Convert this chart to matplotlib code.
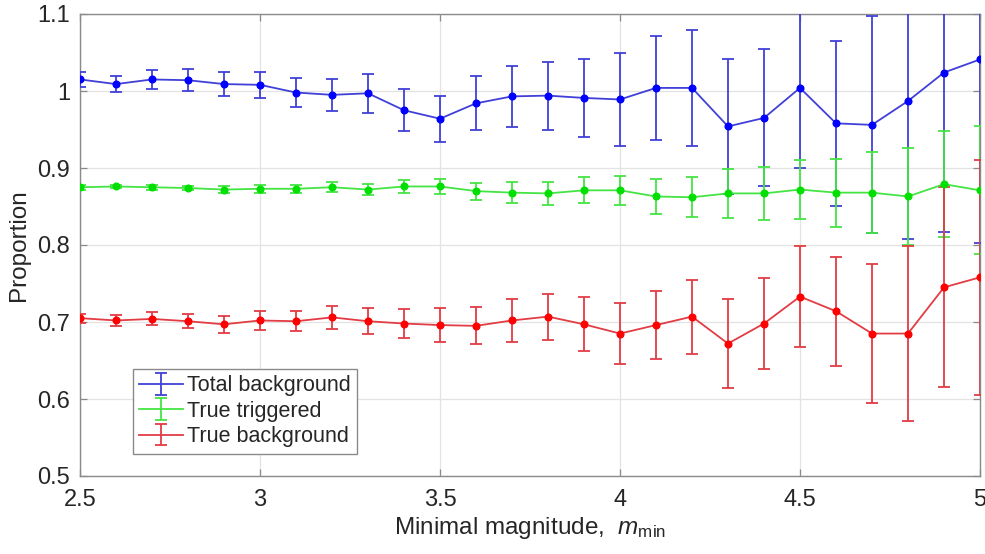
import matplotlib
matplotlib.use("Agg")
import matplotlib.pyplot as plt
from matplotlib.ticker import FixedLocator, FixedFormatter

plt.rcParams['font.family'] = ['Liberation Sans', 'DejaVu Sans']
plt.rcParams['mathtext.fontset'] = 'custom'
plt.rcParams['mathtext.it'] = 'Liberation Sans:italic'
plt.rcParams['mathtext.rm'] = 'Liberation Sans'

# ---- data ----
m_min = [2.5, 2.6, 2.7, 2.8, 2.9, 3.0, 3.1, 3.2, 3.3, 3.4, 3.5, 3.6, 3.7,
         3.8, 3.9, 4.0, 4.1, 4.2, 4.3, 4.4, 4.5, 4.6, 4.7, 4.8, 4.9, 5.0]

total_bg = [1.015, 1.009, 1.015, 1.014, 1.009, 1.008, 0.998, 0.995, 0.997,
            0.975, 0.964, 0.984, 0.993, 0.994, 0.991, 0.989, 1.004, 1.004,
            0.954, 0.965, 1.004, 0.958, 0.956, 0.987, 1.024, 1.041]
total_bg_err = [0.010, 0.010, 0.012, 0.014, 0.016, 0.017, 0.019, 0.021, 0.025,
                0.027, 0.030, 0.035, 0.040, 0.044, 0.051, 0.060, 0.068, 0.075,
                0.088, 0.089, 0.104, 0.107, 0.141, 0.179, 0.207, 0.238]

true_trig = [0.875, 0.876, 0.875, 0.874, 0.872, 0.873, 0.873, 0.875, 0.872,
             0.876, 0.876, 0.870, 0.868, 0.867, 0.871, 0.871, 0.863, 0.862,
             0.867, 0.867, 0.872, 0.868, 0.868, 0.863, 0.879, 0.871]
true_trig_err = [0.003, 0.002, 0.003, 0.003, 0.004, 0.005, 0.005, 0.0065, 0.007,
                 0.009, 0.0095, 0.011, 0.0135, 0.0147, 0.017, 0.019, 0.023, 0.026,
                 0.032, 0.034, 0.038, 0.044, 0.053, 0.063, 0.069, 0.083]

true_bg = [0.705, 0.702, 0.704, 0.701, 0.697, 0.702, 0.701, 0.706, 0.701,
           0.698, 0.696, 0.695, 0.702, 0.707, 0.697, 0.685, 0.696, 0.707,
           0.672, 0.698, 0.733, 0.714, 0.685, 0.685, 0.745, 0.758]
true_bg_err = [0.006, 0.0075, 0.0085, 0.0093, 0.011, 0.012, 0.013, 0.015, 0.017,
               0.019, 0.022, 0.024, 0.0275, 0.030, 0.035, 0.040, 0.044, 0.048,
               0.058, 0.059, 0.066, 0.071, 0.090, 0.114, 0.130, 0.153]

labels = ['Total background', 'True triggered', 'True background']
line_colors = ['#4040d8', '#44e444', '#e23c44']
marker_colors = ['#0000ff', '#00e000', '#ff0000']

x_ticks = [2.5, 3.0, 3.5, 4.0, 4.5, 5.0]
x_tick_labels = ['2.5', '3', '3.5', '4', '4.5', '5']
y_ticks = [0.5, 0.6, 0.7, 0.8, 0.9, 1.0, 1.1]
y_tick_labels = ['0.5', '0.6', '0.7', '0.8', '0.9', '1', '1.1']

# ---- figure ----
fig = plt.figure(figsize=(9.85, 5.54), dpi=100)
ax = fig.add_axes([80 / 985, 78 / 554, 900 / 985, 462 / 554])

series = [(total_bg, total_bg_err), (true_trig, true_trig_err), (true_bg, true_bg_err)]
handles = []
for (vals, errs), lab, lc, mc in zip(series, labels, line_colors, marker_colors):
    h = ax.errorbar(m_min, vals, yerr=errs, fmt='-', color=lc, lw=1.3,
                    elinewidth=1.3, capsize=4, capthick=1.3, label=lab, zorder=3)
    ax.plot(m_min, vals, 'o', color=mc, ms=4.8, zorder=4)
    handles.append(h)

ax.set_xlim(2.5, 5.0)
ax.set_ylim(0.5, 1.1)
ax.xaxis.set_major_locator(FixedLocator(x_ticks))
ax.xaxis.set_major_formatter(FixedFormatter(x_tick_labels))
ax.yaxis.set_major_locator(FixedLocator(y_ticks))
ax.yaxis.set_major_formatter(FixedFormatter(y_tick_labels))

ax.grid(True, color='#e3e3e3', lw=0.9, zorder=0)
ax.set_axisbelow(True)
for s in ax.spines.values():
    s.set_color('#8a8a8a')
    s.set_linewidth(1.0)
ax.tick_params(axis='both', direction='in', length=5, width=0.9, color='#8a8a8a',
               labelsize=17, labelcolor='#262626', top=True, right=True)
ax.tick_params(axis='x', pad=9)
ax.tick_params(axis='y', pad=7)

ax.set_xlabel('Minimal magnitude,  $m_{\\mathrm{min}}$', fontsize=17.5, color='#262626', labelpad=3)
ax.set_ylabel('Proportion', fontsize=17.5, color='#262626', labelpad=5)

leg = ax.legend(handles=handles, labels=labels, loc='upper left',
                bbox_to_anchor=(0.0589, 0.2316), borderaxespad=0, fontsize=15.5,
                fancybox=False, framealpha=1, edgecolor='#8a8a8a',
                handlelength=2.0, handletextpad=0.2, labelspacing=0.2,
                borderpad=0.3)
leg.get_frame().set_linewidth(1.0)
for t in leg.get_texts():
    t.set_color('#262626')

fig.savefig('out.png', dpi=100)
